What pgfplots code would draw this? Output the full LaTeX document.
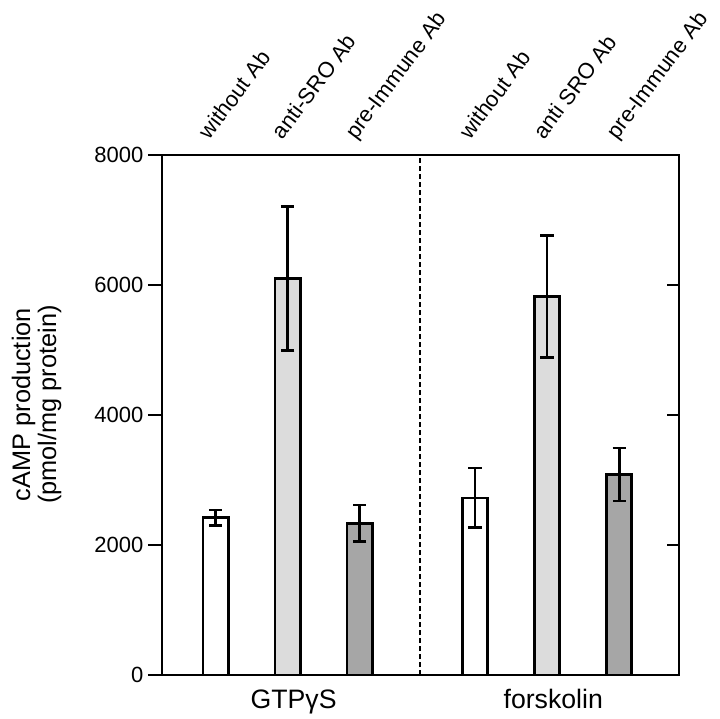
\documentclass[border=0pt]{standalone}
\usepackage{fontspec}
\setmainfont{Liberation Sans}
\usepackage{pgfplots}
\pgfplotsset{compat=1.18}

\definecolor{lightbar}{HTML}{DCDCDC}
\definecolor{darkbar}{HTML}{A6A6A6}

\tikzset{
    toplab/.style={rotate=53, anchor=base west, font=\fontsize{16.5}{18}\selectfont},
    botlab/.style={anchor=base, font=\fontsize{20}{22}\selectfont},
}

\begin{document}
\begin{tikzpicture}
    \begin{axis}[
            scale only axis,
            width=387.75pt, height=390pt,
            xmin=0.257, xmax=7.43,
            ymin=0, ymax=8000,
            clip=false,
            axis line style={line width=2pt},
            ytick={0,2000,4000,6000,8000},
            ytick pos=left,
            tick align=outside,
            major tick length=10.5pt,
            tick style={line width=2pt, black},
            scaled y ticks=false,
            /pgf/number format/1000 sep={},
            /pgf/number format/assume math mode=true,
            yticklabel style={font=\fontsize{16.5}{18}\selectfont},
            xtick=\empty,
            ybar, bar width=0.35, bar shift=0pt,
            error bars/error bar style={line width=2pt, black},
            error bars/error mark options={rotate=90, line width=2pt, mark size=5pt, black},
        ]
        % without Ab
        \addplot[draw=black, line width=2pt, fill=white,
            error bars/.cd, y dir=both, y explicit] coordinates {
                (1,2420) +- (0,120)
                (4.6,2725) +- (0,460)
            };
        % anti-SRO Ab
        \addplot[draw=black, line width=2pt, fill=lightbar,
            error bars/.cd, y dir=both, y explicit] coordinates {
                (2,6100) +- (0,1110)
                (5.6,5820) +- (0,940)
            };
        % pre-Immune Ab
        \addplot[draw=black, line width=2pt, fill=darkbar,
            error bars/.cd, y dir=both, y explicit] coordinates {
                (3,2336) +- (0,280)
                (6.6,3085) +- (0,410)
            };
        \draw[line width=1.5pt, dash pattern=on 3.75pt off 2.25pt] (axis cs:3.84,0) -- (axis cs:3.84,8000);
        % labels above the bars
        \node[toplab] at ([xshift=-6.5pt, yshift=8.25pt]axis cs:1,8000) {without Ab};
        \node[toplab] at ([xshift=-5.6pt, yshift=8.25pt]axis cs:2,8000) {anti-SRO Ab};
        \node[toplab] at ([xshift=-4.9pt, yshift=8.25pt]axis cs:3,8000) {pre-Immune Ab};
        \node[toplab] at ([xshift=-5.8pt, yshift=8.25pt]axis cs:4.6,8000) {without Ab};
        \node[toplab] at ([xshift=-4.3pt, yshift=8.25pt]axis cs:5.6,8000) {anti SRO Ab};
        \node[toplab] at ([xshift=-3.5pt, yshift=8.25pt]axis cs:6.6,8000) {pre-Immune Ab};
        % group labels
        \node[botlab] at ([yshift=-24.75pt]axis cs:2.083,0) {GTPγS};
        \node[botlab] at ([yshift=-24.75pt]axis cs:5.685,0) {forskolin};
        \node[rotate=90, align=center, font=\fontsize{19}{19.5}\selectfont] at (rel axis cs:-0.2427,0.52) {cAMP production\\(pmol/mg protein)};
    \end{axis}
    \begin{axis}[
            scale only axis,
            width=387.75pt, height=390pt,
            xmin=0.257, xmax=7.43,
            ymin=0, ymax=8000,
            axis line style={draw=none},
            xtick=\empty,
            ytick={0,2000,4000,6000,8000},
            yticklabels={},
            ytick pos=right,
            tick align=inside,
            major tick length=9pt,
            tick style={line width=2pt, black},
        ]
    \end{axis}
    \pgfresetboundingbox
    \useasboundingbox (-121.5pt,-32.25pt) rectangle (418.5pt,506.25pt);
\end{tikzpicture}
\end{document}
